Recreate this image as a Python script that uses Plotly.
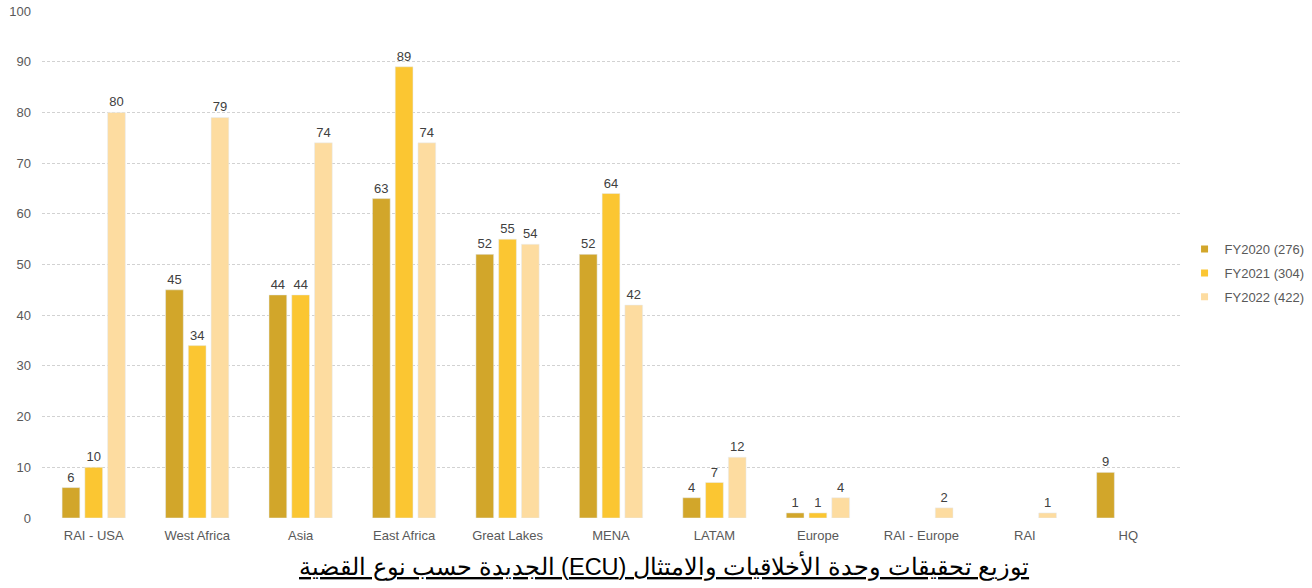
import plotly.graph_objects as go

categories = ["RAI - USA", "West Africa", "Asia", "East Africa", "Great Lakes", "MENA",
              "LATAM", "Europe", "RAI - Europe", "RAI", "HQ"]
fy2020 = [6, 45, 44, 63, 52, 52, 4, 1, None, None, 9]
fy2021 = [10, 34, 44, 89, 55, 64, 7, 1, None, None, None]
fy2022 = [80, 79, 74, 74, 54, 42, 12, 4, 2, 1, None]
series_names = ["FY2020 (276)", "FY2021 (304)", "FY2022 (422)"]
colors = ["#D2A62A", "#FBC632", "#FDDCA0"]
title = "\u202Bتوزيع تحقيقات وحدة الأخلاقيات والامتثال (ECU) الجديدة حسب نوع القضية\u202C"

FONT = "Liberation Sans, Arial"
fig = go.Figure()
for i, (name, vals, col) in enumerate(zip(series_names, [fy2020, fy2021, fy2022], colors)):
    fig.add_trace(go.Bar(
        x=categories, y=vals, name=name, marker_color=col, showlegend=False,
        text=[("" if v is None else str(v)) for v in vals],
        textposition="outside", cliponaxis=False,
        textfont=dict(family=FONT, size=13, color="#404040"),
    ))
for i, (name, col) in enumerate(zip(series_names, colors)):
    fig.add_trace(go.Scatter(
        x=[None], y=[None], mode="markers", name=name, legendgroup=str(i),
        marker=dict(symbol="square", size=7, color=col), showlegend=True,
    ))

fig.update_layout(
    width=1312, height=588,
    margin=dict(l=42, r=132, t=11, b=70, autoexpand=False),
    paper_bgcolor="white", plot_bgcolor="white",
    barmode="group", bargap=0.34, bargroupgap=0.22,
    font=dict(family=FONT, size=13, color="#595959"),
    showlegend=True,
    legend=dict(x=1.004, y=0.483, xanchor="left", yanchor="middle",
                font=dict(family=FONT, size=13, color="#595959"), itemwidth=30,
                tracegroupgap=4, bgcolor="rgba(0,0,0,0)"),
    yaxis=dict(range=[0, 100], dtick=10, showgrid=True, gridcolor="#D2D2D2",
               griddash="3px,2px", gridwidth=1, zeroline=False, showline=False,
               ticks="", ticklabelstandoff=10, automargin=False,
               tickfont=dict(family=FONT, size=13, color="#595959")),
    xaxis=dict(showline=False, ticks="", automargin=False, ticklabelstandoff=8,
               tickfont=dict(family=FONT, size=13, color="#595959")),
    annotations=[dict(text="<u>" + title + "</u>", xref="paper", yref="paper", x=0.547, y=-0.061,
                      xanchor="center", yanchor="top", showarrow=False,
                      font=dict(family=FONT, size=23.5, color="black"))],
)

fig.write_html("out.html")
